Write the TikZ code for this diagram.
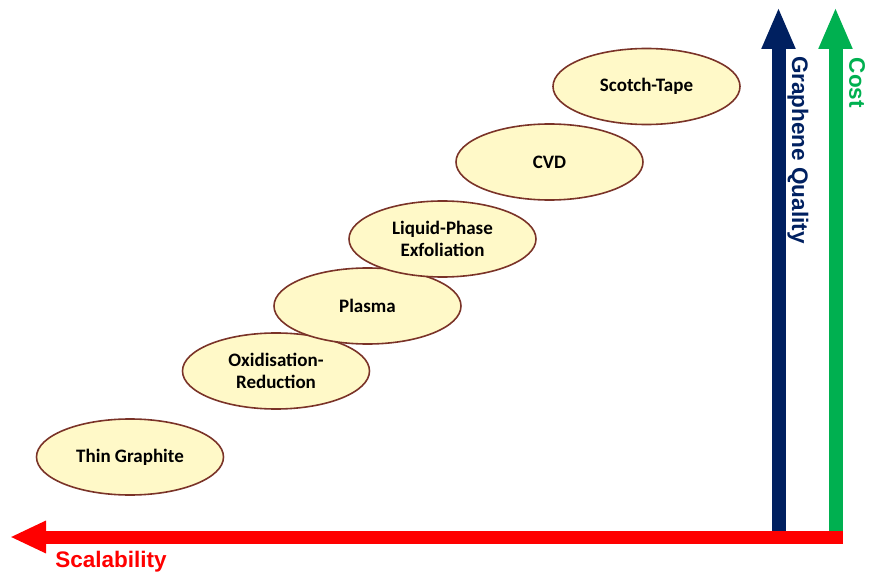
\documentclass[tikz,border=0pt]{standalone}
\usepackage{fontspec}
\setmainfont{Carlito}
\newfontfamily\arialfont{Liberation Sans}
\usetikzlibrary{arrows.meta,positioning,shapes.geometric}
\definecolor{navy}{HTML}{002060}
\definecolor{costgreen}{HTML}{00B050}
\definecolor{axisred}{HTML}{FF0000}
\definecolor{cream}{HTML}{FFF9C8}
\definecolor{rim}{HTML}{7A3328}

\begin{document}
\begin{tikzpicture}[x=1pt,y=-1pt,
 method/.style={ellipse,draw=rim,line width=1.6pt,fill=cream,minimum width=187pt,minimum height=76pt,inner sep=0pt,align=center,font=\fontsize{19}{22}\selectfont\bfseries},
 axis/.style={line width=14pt,-{Triangle[width=31pt,length=42pt]}},
 axislabel/.style={font=\arialfont\fontsize{22.5}{26}\selectfont\bfseries}]
\useasboundingbox (0,0) rectangle (871,575);
% axes
\coordinate (qbase) at (778.5,531);
\coordinate (qtop) at (778.5,7);
\coordinate (cbase) at (835.5,531);
\coordinate (ctop) at (835.5,7);
\coordinate (send) at (843,537);
\coordinate (stip) at (10,537);
\draw[axis,navy] (qbase) -- (qtop);
\draw[axis,costgreen] (cbase) -- (ctop);
\draw[axis,axisred,line width=13pt,-{Triangle[width=30pt,length=36pt]}] (send) -- (stip);
\node[axislabel,axisred] (scal) at (111,562) {Scalability};
\node[axislabel,navy,rotate=-90] (qual) at (798,150) {Graphene Quality};
\node[axislabel,costgreen,rotate=-90] (cost) at (857,83) {Cost};
% methods
\node[method] (thin) at (130,457) {Thin Graphite};
\node[method] (redox) at (276,371) {Oxidisation-\\Reduction};
\node[method] (plasma) at (367.5,306) {Plasma};
\node[method] (lpe) at (442.5,239) {Liquid-Phase\\Exfoliation};
\node[method] (cvd) at (549.5,162) {CVD};
\node[method] (tape) at (646.5,86.5) {Scotch-Tape};
\end{tikzpicture}
\end{document}
